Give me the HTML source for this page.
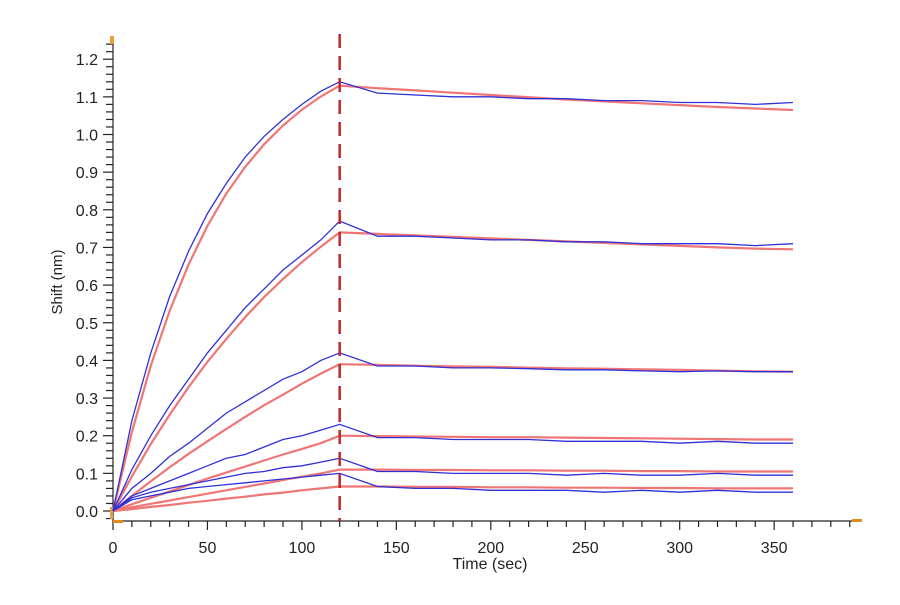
<!DOCTYPE html>
<html><head><meta charset="utf-8"><style>
body{margin:0;background:#fff}
svg text{font-family:"Liberation Sans",sans-serif;fill:#222}
</style></head><body>
<svg id="chart" width="900" height="600"></svg>
<script>
const assocTimes=[0,10,20,30,40,50,60,70,80,90,100,110,120];
const dissocTimes=[120,140,160,180,200,220,240,260,280,300,320,340,360];
const fitAssoc=[
[0,0.21,0.386,0.532,0.655,0.757,0.843,0.914,0.974,1.024,1.066,1.101,1.13],
[0,0.092,0.178,0.256,0.329,0.396,0.457,0.515,0.568,0.616,0.661,0.702,0.74],
[0,0.04,0.079,0.116,0.152,0.185,0.218,0.25,0.281,0.309,0.338,0.365,0.39],
[0,0.018,0.035,0.052,0.069,0.086,0.102,0.118,0.134,0.15,0.165,0.18,0.20],
[0,0.01,0.019,0.028,0.037,0.046,0.055,0.064,0.073,0.082,0.091,0.10,0.11],
[0,0.005,0.011,0.016,0.022,0.027,0.033,0.038,0.044,0.049,0.055,0.06,0.065]];
const fitDissoc=[
[1.13,1.123,1.117,1.111,1.105,1.099,1.093,1.088,1.083,1.078,1.073,1.069,1.065],
[0.74,0.736,0.732,0.728,0.724,0.72,0.716,0.712,0.708,0.704,0.70,0.697,0.695],
[0.39,0.388,0.386,0.384,0.383,0.381,0.379,0.378,0.376,0.375,0.373,0.371,0.37],
[0.20,0.199,0.198,0.197,0.196,0.196,0.195,0.194,0.193,0.192,0.191,0.19,0.19],
[0.11,0.11,0.109,0.109,0.108,0.108,0.107,0.107,0.106,0.106,0.105,0.105,0.105],
[0.065,0.065,0.064,0.064,0.063,0.063,0.062,0.062,0.061,0.061,0.06,0.06,0.06]];
const dataAssoc=[
[0,0.24,0.42,0.57,0.69,0.79,0.87,0.94,0.995,1.04,1.08,1.115,1.14],
[0,0.11,0.20,0.28,0.35,0.42,0.48,0.54,0.59,0.64,0.68,0.72,0.77],
[0,0.06,0.10,0.145,0.18,0.22,0.26,0.29,0.32,0.35,0.37,0.40,0.42],
[0,0.04,0.06,0.08,0.10,0.12,0.14,0.15,0.17,0.19,0.20,0.215,0.23],
[0,0.035,0.05,0.06,0.07,0.08,0.09,0.10,0.105,0.115,0.12,0.13,0.14],
[0,0.03,0.04,0.05,0.06,0.065,0.07,0.075,0.08,0.085,0.09,0.095,0.10]];
const dataDissoc=[
[1.14,1.11,1.105,1.10,1.10,1.095,1.095,1.09,1.09,1.085,1.085,1.08,1.085],
[0.77,0.73,0.73,0.725,0.72,0.72,0.715,0.715,0.71,0.71,0.71,0.705,0.71],
[0.42,0.385,0.385,0.38,0.38,0.378,0.375,0.375,0.372,0.37,0.372,0.37,0.37],
[0.23,0.195,0.195,0.19,0.19,0.19,0.185,0.185,0.185,0.18,0.185,0.18,0.18],
[0.14,0.105,0.105,0.10,0.10,0.10,0.095,0.10,0.095,0.095,0.10,0.095,0.095],
[0.10,0.065,0.06,0.06,0.055,0.055,0.055,0.05,0.055,0.05,0.055,0.05,0.05]];
const xTickLabels=[0,50,100,150,200,250,300,350];
const yTickLabels=[0.0,0.1,0.2,0.3,0.4,0.5,0.6,0.7,0.8,0.9,1.0,1.1,1.2];
const injectionTime=120;

const NS="http://www.w3.org/2000/svg";
const svg=document.getElementById('chart');
const X=t=>113+t*1.889;
const Y=v=>511-v*376.5;
function mk(tag,attrs,parent){const e=document.createElementNS(NS,tag);for(const k in attrs)e.setAttribute(k,attrs[k]);(parent||svg).appendChild(e);return e;}

// axes
const yAxis=mk('line',{x1:113,y1:40,x2:113,y2:521,stroke:'#222','stroke-width':1.2});


const xAxis=mk('line',{x1:113,y1:521,x2:852,y2:521,stroke:'#222','stroke-width':1.2});


for(let t=0;t<=390;t+=10){const major=t%50===0;mk('line',{x1:X(t),y1:521,x2:X(t),y2:major?530:527,stroke:'#222','stroke-width':1.2});}
for(let i=-1;i<=62;i++){const v=i*0.02;if(Y(v)>521||Y(v)<40)continue;const major=i%5===0;mk('line',{x1:113,y1:Y(v),x2:major?103:106,y2:Y(v),stroke:'#222','stroke-width':1.2});}
xTickLabels.forEach(t=>{const e=mk('text',{x:X(t),y:553,'text-anchor':'middle','font-size':16});e.textContent=t;

});
yTickLabels.forEach(v=>{const e=mk('text',{x:98,y:Y(v)+6,'text-anchor':'end','font-size':16});e.textContent=v.toFixed(1);

});
// orange markers
mk('rect',{x:110,y:36,width:4,height:8,fill:'#f0a030'});
mk('rect',{x:852,y:519,width:10,height:3,fill:'#e08a20'});
mk('rect',{x:113,y:520,width:10,height:3,fill:'#e08a20'});
mk('rect',{x:110,y:507,width:3,height:12,fill:'#e0a040'});

const xt=mk('text',{x:490,y:569,'text-anchor':'middle','font-size':16});xt.textContent='Time (sec)';


const yt=mk('text',{x:62,y:282,'text-anchor':'middle','font-size':15,transform:'rotate(-90 62 282)'});yt.textContent='Shift (nm)';



function pts(ts,vs){return ts.map((t,i)=>X(t).toFixed(1)+','+Y(vs[i]).toFixed(1)).join(' ');}
for(let s=0;s<6;s++){
  const f=mk('polyline',{points:pts(assocTimes,fitAssoc[s])+' '+pts(dissocTimes,fitDissoc[s]),fill:'none',stroke:'#f07575','stroke-width':2.2});
  
  
}
for(let s=0;s<6;s++){
  const d=mk('polyline',{points:pts(assocTimes,dataAssoc[s])+' '+pts(dissocTimes,dataDissoc[s]),fill:'none',stroke:'#3030d8','stroke-width':1.3});
  
  
}
const inj=mk('line',{x1:X(injectionTime),y1:34,x2:X(injectionTime),y2:521,stroke:'#c0282a','stroke-width':2.5,'stroke-dasharray':'14 8'});


</script>
</body></html>
